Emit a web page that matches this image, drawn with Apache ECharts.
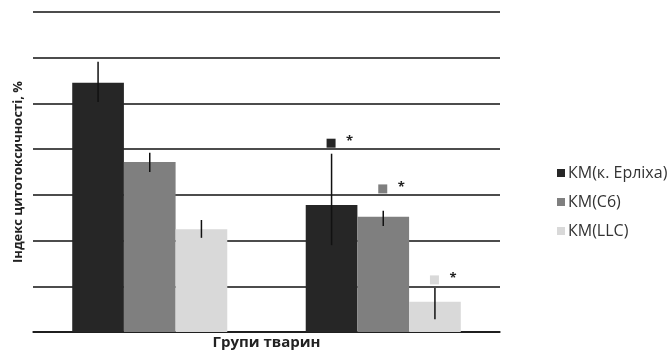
<!DOCTYPE html>
<html>
<head>
<meta charset="utf-8">
<script src="https://cdn.jsdelivr.net/npm/echarts@6/dist/echarts.min.js"></script>
<style>html,body{margin:0;padding:0;background:#fff}#c{width:672px;height:354px}</style>
</head>
<body>
<div id="c"></div>
<script>
var categories = ['Група 1', 'Група 2'];
var seriesNames = ['КМ(к. Ерліха)', 'КМ(С6)', 'КМ(LLC)'];
var colors = ['#262626', '#7f7f7f', '#d9d9d9'];
var valuesErlich = [5.45, 2.78];
var valuesC6 = [3.72, 2.52];
var valuesLLC = [2.25, 0.66];
var errLowErlich = [5.03, 1.9];
var errHighErlich = [5.91, 3.9];
var errLowC6 = [3.5, 2.32];
var errHighC6 = [3.92, 2.65];
var errLowLLC = [2.06, 0.28];
var errHighLLC = [2.45, 0.96];
// significance markers (group 2 only)
var markErlich = [null, 4.13];
var markC6 = [null, 3.13];
var markLLC = [null, 1.14];

var gapPct = 0.336;
var values = [valuesErlich, valuesC6, valuesLLC];
var lows = [errLowErlich, errLowC6, errLowLLC];
var highs = [errHighErlich, errHighC6, errHighLLC];
var marks = [markErlich, markC6, markLLC];

function barX(api, cat, i) {
  var c = api.coord([cat, 0]);
  var bandW = api.size([1, 0])[0];
  var groupW = bandW * (1 - gapPct);
  var barW = groupW / 3;
  return c[0] - groupW / 2 + barW * (i + 0.5);
}

var errData = [];
for (var i = 0; i < 3; i++) for (var k = 0; k < categories.length; k++) errData.push([k, lows[i][k], highs[i][k], i]);
var markData = [];
for (var i = 0; i < 3; i++) for (var k = 0; k < categories.length; k++) if (marks[i][k] != null) markData.push([k, marks[i][k], i]);

var series = [];
for (var i = 0; i < 3; i++) {
  series.push({
    name: seriesNames[i], type: 'bar', data: values[i],
    itemStyle: { color: colors[i] },
    barGap: '0%', barCategoryGap: (gapPct * 100) + '%',
    z: 3
  });
}
series.push({
  type: 'custom', data: errData, z: 5, silent: true,
  renderItem: function (params, api) {
    var k = api.value(0), i = api.value(3);
    var x = barX(api, k, i);
    var y1 = api.coord([k, api.value(1)])[1];
    var y2 = api.coord([k, api.value(2)])[1];
    return { type: 'line', shape: { x1: x, y1: y1, x2: x, y2: y2 }, style: { stroke: '#111', lineWidth: 1.5 } };
  }
});
series.push({
  type: 'custom', data: markData, z: 5, silent: true,
  renderItem: function (params, api) {
    var k = api.value(0), i = api.value(2);
    var x = barX(api, k, i);
    var y = api.coord([k, api.value(1)])[1];
    return { type: 'group', children: [
      { type: 'rect', shape: { x: x - 5, y: y - 4.5, width: 9, height: 9 }, style: { fill: colors[i] } },
      { type: 'text', style: { x: x + 18, y: y - 2, text: '*', fill: '#222', font: 'bold 13px "Open Sans"', align: 'center', verticalAlign: 'middle' } }
    ] };
  }
});

var chart = echarts.init(document.getElementById('c'));
chart.setOption({
  animation: false,
  grid: { left: 33, right: 172, top: 12, bottom: 22, containLabel: false, outerBoundsMode: 'none' },
  legend: {
    data: seriesNames, orient: 'vertical', left: 552, top: 160,
    itemWidth: 8, itemHeight: 8, itemGap: 13, icon: 'rect',
    textStyle: { fontFamily: 'Open Sans', fontSize: 16, color: '#333', padding: [0, 0, 0, -2] }
  },
  xAxis: {
    type: 'category', data: categories,
    name: 'Групи тварин', nameLocation: 'middle', nameGap: 3,
    nameTextStyle: { fontFamily: 'Open Sans', fontWeight: 'bold', fontSize: 15, color: '#222' },
    axisLine: { lineStyle: { color: '#111', width: 1.5 } },
    axisTick: { show: false }, axisLabel: { show: false }
  },
  yAxis: {
    type: 'value', min: 0, max: 7, interval: 1,
    name: 'Індекс цитотоксичності, %', nameLocation: 'middle', nameGap: 8,
    nameTextStyle: { fontFamily: 'Open Sans', fontWeight: 'bold', fontSize: 13, color: '#222' },
    axisLine: { show: false }, axisTick: { show: false }, axisLabel: { show: false },
    splitLine: { lineStyle: { color: '#111', width: 1.5 } }
  },
  series: series
});
</script>
</body>
</html>
